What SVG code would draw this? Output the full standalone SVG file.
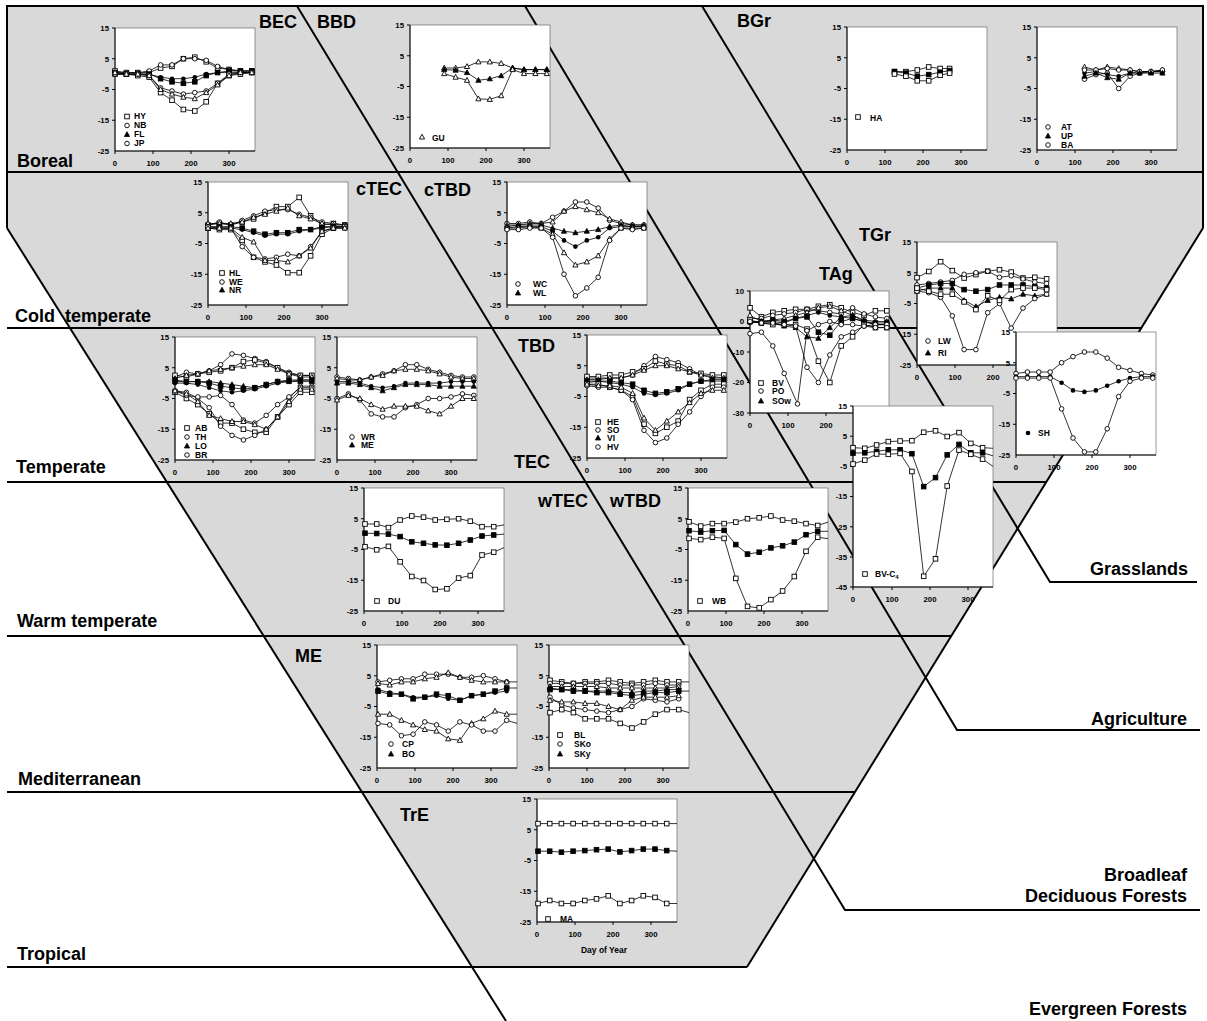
<svg xmlns="http://www.w3.org/2000/svg" width="1207" height="1021" viewBox="0 0 1207 1021">
<style>
.rl{font-family:"Liberation Sans",Arial,Helvetica,sans-serif;font-weight:bold;font-size:18px;fill:#000}
.rr{text-anchor:end}
.tk{font-family:"Liberation Sans",Arial,sans-serif;font-weight:bold;font-size:7.8px}
.ty{text-anchor:end}
.tx{text-anchor:middle}
.lg{font-family:"Liberation Sans",Arial,sans-serif;font-weight:bold;font-size:8.5px}
.bl{fill:none;stroke:#000;stroke-width:2}
.pb{fill:#fff;stroke:#555;stroke-width:0.6}
.ax{fill:none;stroke:#000;stroke-width:1}
.d{fill:none;stroke:#000;stroke-width:0.8}
.s{marker-start:url(#ms);marker-mid:url(#ms);marker-end:url(#ms)}
.S{marker-start:url(#mS);marker-mid:url(#mS);marker-end:url(#mS)}
.c{marker-start:url(#mc);marker-mid:url(#mc);marker-end:url(#mc)}
.C{marker-start:url(#mC);marker-mid:url(#mC);marker-end:url(#mC)}
.t{marker-start:url(#mt);marker-mid:url(#mt);marker-end:url(#mt)}
.T{marker-start:url(#mT);marker-mid:url(#mT);marker-end:url(#mT)}
</style>
<defs>
<g id="gs"><rect x="-2.3" y="-2.3" width="4.6" height="4.6" fill="#fff" stroke="#000" stroke-width="0.9"/></g>
<g id="gS"><rect x="-2.3" y="-2.3" width="4.6" height="4.6" fill="#000" stroke="#000" stroke-width="0.9"/></g>
<g id="gc"><circle r="2.3" fill="#fff" stroke="#000" stroke-width="0.9"/></g>
<g id="gC"><circle r="2.3" fill="#000"/></g>
<g id="gt"><path d="M0,-2.8L2.6,2L-2.6,2Z" fill="#fff" stroke="#000" stroke-width="0.9"/></g>
<g id="gT"><path d="M0,-2.8L2.6,2L-2.6,2Z" fill="#000" stroke="#000" stroke-width="0.8"/></g>
<marker id="ms" viewBox="-4 -4 8 8" markerWidth="8" markerHeight="8" markerUnits="userSpaceOnUse" overflow="visible"><use href="#gs"/></marker>
<marker id="mS" viewBox="-4 -4 8 8" markerWidth="8" markerHeight="8" markerUnits="userSpaceOnUse" overflow="visible"><use href="#gS"/></marker>
<marker id="mc" viewBox="-4 -4 8 8" markerWidth="8" markerHeight="8" markerUnits="userSpaceOnUse" overflow="visible"><use href="#gc"/></marker>
<marker id="mC" viewBox="-4 -4 8 8" markerWidth="8" markerHeight="8" markerUnits="userSpaceOnUse" overflow="visible"><use href="#gC"/></marker>
<marker id="mt" viewBox="-4 -4 8 8" markerWidth="8" markerHeight="8" markerUnits="userSpaceOnUse" overflow="visible"><use href="#gt"/></marker>
<marker id="mT" viewBox="-4 -4 8 8" markerWidth="8" markerHeight="8" markerUnits="userSpaceOnUse" overflow="visible"><use href="#gT"/></marker>
<g id="ax">
<rect class="pb" width="140" height="123"/>
<path class="ax" d="M0,0V123H140M-3,0H0M-3,30.75H0M-3,61.5H0M-3,92.25H0M0,123v3M38,123v3M76,123v3M114,123v3"/>
<text class="tk ty" x="-6" y="2.8">15</text>
<text class="tk ty" x="-6" y="33.5">5</text>
<text class="tk ty" x="-6" y="64.3">-5</text>
<text class="tk ty" x="-6" y="95">-15</text>
<text class="tk ty" x="-6" y="125.8">-25</text>
<text class="tk tx" x="0" y="138">0</text>
<text class="tk tx" x="38" y="138">100</text>
<text class="tk tx" x="76" y="138">200</text>
<text class="tk tx" x="114" y="138">300</text>
</g>
</defs>

<g id="background">
<polygon points="7,6 1203,6 1203,228 747,967 472,967 7,228" fill="#d9d9d9"/>
</g>

<g id="connectors">
<path class="bl" d="M7,228V6H1203V228"/>
<path class="bl" d="M7,228L506,1021"/>
<path class="bl" d="M1203,228L747,967"/>
<path class="bl" d="M7,172H1203M7,328H1141M7,482H1046M7,636H951M7,792H855M7,967H747"/>
<path class="bl" d="M297,6L845,910H1200"/>
<path class="bl" d="M525,6L957,730H1200"/>
<path class="bl" d="M702,6L1050,582H1197"/>
</g>

<g id="region-labels">
<text class="rl" x="259" y="28">BEC</text>
<text class="rl" x="317" y="28">BBD</text>
<text class="rl" x="737" y="27">BGr</text>
<text class="rl" x="17" y="167">Boreal</text>
<text class="rl" x="356" y="195">cTEC</text>
<text class="rl" x="424" y="196">cTBD</text>
<text class="rl" x="15" y="322" style="white-space:pre">Cold  temperate</text>
<text class="rl" x="859" y="241">TGr</text>
<text class="rl" x="819" y="280">TAg</text>
<text class="rl" x="518" y="352">TBD</text>
<text class="rl" x="514" y="468">TEC</text>
<text class="rl" x="16" y="473">Temperate</text>
<text class="rl" x="538" y="507">wTEC</text>
<text class="rl" x="610" y="507">wTBD</text>
<text class="rl" x="17" y="627">Warm temperate</text>
<text class="rl" x="295" y="662">ME</text>
<text class="rl" x="18" y="785">Mediterranean</text>
<text class="rl" x="400" y="821">TrE</text>
<text class="rl" x="17" y="960">Tropical</text>
<text class="rl rr" x="1188" y="575">Grasslands</text>
<text class="rl rr" x="1187" y="725">Agriculture</text>
<text class="rl rr" x="1187" y="881">Broadleaf</text>
<text class="rl rr" x="1187" y="902">Deciduous Forests</text>
<text class="rl rr" x="1187" y="1015">Evergreen Forests</text>
</g>

<g id="plot-BEC" transform="translate(115,28)">
<use href="#ax"/>
<polyline class="d s" points="0,43 11.4,44.6 22.8,44.6 34.2,44.6 45.6,40 57,38.4 68.4,30.7 79.8,29.2 91.2,33.8 102.6,40 114,41.5 125.4,43 136.8,43"/>
<polyline class="d c" points="0,44.6 11.4,44.6 22.8,44.6 34.2,43 45.6,36.9 57,36.9 68.4,30.7 79.8,30.7 91.2,32.3 102.6,38.4 114,41.5 125.4,43 136.8,43"/>
<polyline class="d S" points="0,44.6 11.4,46.1 22.8,46.1 34.2,46.1 45.6,50.7 57,53.8 68.4,55.3 79.8,53.8 91.2,47.6 102.6,44.6 114,43 125.4,43 136.8,43"/>
<polyline class="d C" points="0,46.1 11.4,46.1 22.8,46.1 34.2,46.1 45.6,49.2 57,50.7 68.4,50.7 79.8,49.2 91.2,46.1 102.6,44.6 114,44.6 125.4,44.6 136.8,44.6"/>
<polyline class="d s" points="0,46.1 11.4,46.1 22.8,47.6 34.2,49.2 45.6,64.6 57,72.2 68.4,81.5 79.8,83 91.2,73.8 102.6,55.3 114,47.6 125.4,46.1 136.8,44.6"/>
<polyline class="d c" points="0,46.1 11.4,46.1 22.8,46.1 34.2,47.6 45.6,59.9 57,63 68.4,66.1 79.8,64.6 91.2,63 102.6,55.3 114,46.1 125.4,44.6 136.8,44.6"/>
<polyline class="d t" points="0,44.6 11.4,46.1 22.8,46.1 34.2,47.6 45.6,61.5 57,66.1 68.4,69.2 79.8,70.7 91.2,64.6 102.6,56.9 114,47.6 125.4,44.6 136.8,44.6"/>
<use href="#gs" x="12" y="88.5"/><text class="lg" x="19" y="91">HY</text>
<use href="#gc" x="12" y="97.5"/><text class="lg" x="19" y="100">NB</text>
<use href="#gT" x="12" y="106.5"/><text class="lg" x="19" y="109">FL</text>
<use href="#gc" x="12" y="115.5"/><text class="lg" x="19" y="118">JP</text>
</g>

<g id="plot-GU" transform="translate(410,25)">
<use href="#ax"/>
<polyline class="d t" points="34.2,43 45.6,43 57,41.5 68.4,36.9 79.8,36.9 91.2,38.4 102.6,43 114,44.6 125.4,44.6 136.8,44.6"/>
<polyline class="d T" points="34.2,44.6 45.6,45.2 57,47.6 68.4,55.3 79.8,53.8 91.2,50.7 102.6,43 114,44.6 125.4,44.6 136.8,44.6"/>
<polyline class="d t" points="34.2,48.6 45.6,52.2 57,55.3 68.4,73.8 79.8,74.4 91.2,70.7 102.6,44.6 114,48.6 125.4,48.6 136.8,48.6"/>
<use href="#gt" x="12" y="112"/><text class="lg" x="22" y="116">GU</text>
</g>

<g id="plot-HA" transform="translate(847,27)">
<use href="#ax"/>
<polyline class="d s" points="47.5,44.6 58.9,44.6 70.3,43 81.7,40 93.1,41.5 102.6,41.5"/>
<polyline class="d S" points="47.5,44.6 58.9,46.1 70.3,49.2 81.7,47.6 93.1,45.2 102.6,43.6"/>
<polyline class="d s" points="47.5,47 58.9,49.2 70.3,53.8 81.7,53.8 93.1,48.3 102.6,46.1"/>
<use href="#gs" x="11" y="90"/><text class="lg" x="23" y="94">HA</text>
</g>

<g id="plot-ATUPBA" transform="translate(1037,27)">
<use href="#ax"/>
<polyline class="d c" points="47.5,52.2 58.9,47.6 70.3,46.1 81.7,61.5 93.1,49.2 102.6,46.1 114,44.6 125.4,44.6"/>
<polyline class="d t" points="47.5,40 58.9,43 70.3,40 81.7,41.5 93.1,43 102.6,44.6 114,44.6 125.4,43"/>
<polyline class="d C" points="47.5,46.1 58.9,44.6 70.3,47.6 81.7,49.2 93.1,46.1 102.6,44.6 114,44.6 125.4,44.6"/>
<polyline class="d c" points="47.5,43 58.9,43 70.3,41.5 81.7,43 93.1,43 102.6,44.6 114,44.6 125.4,43"/>
<polyline class="d T" points="47.5,49.2 58.9,46.1 70.3,50.7 81.7,52.2 93.1,46.1 102.6,46.1 114,46.1 125.4,46.1"/>
<use href="#gc" x="11" y="100"/><text class="lg" x="24" y="103">AT</text>
<use href="#gT" x="11" y="109"/><text class="lg" x="24" y="112">UP</text>
<use href="#gc" x="11" y="118"/><text class="lg" x="24" y="121">BA</text>
</g>

<g id="plot-cTEC" transform="translate(208,182)">
<use href="#ax"/>
<polyline class="d s" points="0,43 11.4,41.5 22.8,43 34.2,40 45.6,36.9 57,30.7 68.4,24.6 79.8,24.6 91.2,15.4 102.6,33.8 114,43 125.4,41.5 136.8,43"/>
<polyline class="d c" points="0,43 11.4,40 22.8,43 34.2,38.4 45.6,33.8 57,29.2 68.4,27.7 79.8,27.7 91.2,32.3 102.6,35.3 114,40 125.4,41.5 136.8,43"/>
<polyline class="d t" points="0,41.5 11.4,41.5 22.8,41.5 34.2,40 45.6,35.3 57,32.3 68.4,29.2 79.8,26.1 91.2,33.8 102.6,36.9 114,41.5 125.4,43 136.8,43"/>
<polyline class="d S" points="0,44.6 11.4,44.6 22.8,44.6 34.2,46.1 45.6,49.2 57,52.2 68.4,50.7 79.8,50.7 91.2,47.6 102.6,47.6 114,46.1 125.4,44.6 136.8,44.6"/>
<polyline class="d C" points="0,46.1 11.4,46.1 22.8,46.1 34.2,47.6 45.6,50.7 57,53.8 68.4,52.2 79.8,52.2 91.2,49.2 102.6,47.6 114,44.6 125.4,44.6 136.8,44.6"/>
<polyline class="d s" points="0,46.1 11.4,47.6 22.8,47.6 34.2,58.4 45.6,75.3 57,79.9 68.4,83 79.8,90.7 91.2,90.7 102.6,73.8 114,52.2 125.4,46.1 136.8,44.6"/>
<polyline class="d c" points="0,44.6 11.4,46.1 22.8,46.1 34.2,64.6 45.6,75.3 57,76.9 68.4,75.3 79.8,72.2 91.2,73.8 102.6,64.6 114,49.2 125.4,46.1 136.8,46.1"/>
<polyline class="d t" points="0,46.1 11.4,46.1 22.8,46.1 34.2,55.3 45.6,59.9 57,78.4 68.4,78.4 79.8,79.9 91.2,73.8 102.6,66.1 114,49.2 125.4,46.1 136.8,46.1"/>
<use href="#gs" x="14" y="91"/><text class="lg" x="21" y="94">HL</text>
<use href="#gc" x="14" y="100"/><text class="lg" x="21" y="103">WE</text>
<use href="#gT" x="14" y="108"/><text class="lg" x="21" y="111">NR</text>
</g>

<g id="plot-cTBD" transform="translate(507,182)">
<use href="#ax"/>
<polyline class="d c" points="0,41.5 11.4,41.5 22.8,40 34.2,41.5 45.6,35.3 57,29.2 68.4,20 79.8,20 91.2,26.1 102.6,38.4 114,41.5 125.4,43 136.8,43"/>
<polyline class="d t" points="0,43 11.4,43 22.8,41.5 34.2,41.5 45.6,40 57,29.2 68.4,24.6 79.8,27.7 91.2,30.7 102.6,36.9 114,40 125.4,43 136.8,43"/>
<polyline class="d T" points="0,44.6 11.4,43 22.8,43 34.2,43 45.6,46.1 57,49.2 68.4,50.7 79.8,49.2 91.2,47.6 102.6,44.6 114,43 125.4,44.6 136.8,44.6"/>
<polyline class="d C" points="0,46.1 11.4,44.6 22.8,44.6 34.2,44.6 45.6,49.2 57,58.4 68.4,64.6 79.8,58.4 91.2,55.3 102.6,46.1 114,44.6 125.4,44.6 136.8,44.6"/>
<polyline class="d t" points="0,46.1 11.4,46.1 22.8,44.6 34.2,46.1 45.6,52.2 57,70.7 68.4,83 79.8,79.9 91.2,73.8 102.6,56.9 114,46.1 125.4,46.1 136.8,46.1"/>
<polyline class="d c" points="0,47.6 11.4,47.6 22.8,46.1 34.2,46.1 45.6,55.3 57,92.2 68.4,113.8 79.8,106 91.2,95.3 102.6,58.4 114,46.1 125.4,47.6 136.8,46.1"/>
<use href="#gc" x="11" y="102"/><text class="lg" x="26" y="105">WC</text>
<use href="#gT" x="11" y="111"/><text class="lg" x="26" y="114">WL</text>
</g>

<g id="plot-TEC1" transform="translate(175,337)">
<use href="#ax"/>
<polyline class="d c" points="0,40 11.4,35.3 22.8,36.9 34.2,33.8 45.6,27.7 57,16.9 68.4,18.4 79.8,21.5 91.2,24.6 102.6,30.7 114,35.3 125.4,38.4 136.8,38.4"/>
<polyline class="d s" points="0,38.4 11.4,40 22.8,36.9 34.2,35.3 45.6,33.8 57,30.7 68.4,24.6 79.8,23 91.2,26.1 102.6,30.7 114,36.9 125.4,38.4 136.8,38.4"/>
<polyline class="d t" points="0,41.5 11.4,38.4 22.8,36.9 34.2,33.8 45.6,32.3 57,30.7 68.4,29.2 79.8,27.7 91.2,27.7 102.6,32.3 114,36.9 125.4,40 136.8,40"/>
<polyline class="d S" points="0,43 11.4,44.6 22.8,44.6 34.2,46.1 45.6,49.2 57,50.7 68.4,52.2 79.8,50.7 91.2,47.6 102.6,44.6 114,43 125.4,43 136.8,43"/>
<polyline class="d C" points="0,46.1 11.4,46.1 22.8,47.6 34.2,50.7 45.6,53.8 57,55.3 68.4,53.8 79.8,52.2 91.2,49.2 102.6,46.1 114,44.6 125.4,43 136.8,43"/>
<polyline class="d T" points="0,44.6 11.4,44.6 22.8,44.6 34.2,44.6 45.6,46.1 57,47.6 68.4,49.2 79.8,50.7 91.2,47.6 102.6,44.6 114,44.6 125.4,44.6 136.8,44.6"/>
<polyline class="d s" points="0,55.3 11.4,61.5 22.8,67.6 34.2,76.9 45.6,86.1 57,86.1 68.4,92.2 79.8,95.3 91.2,95.3 102.6,79.9 114,67.6 125.4,55.3 136.8,55.3"/>
<polyline class="d c" points="0,53.8 11.4,55.3 22.8,61.5 34.2,70.7 45.6,89.2 57,98.4 68.4,103 79.8,98.4 91.2,92.2 102.6,79.9 114,61.5 125.4,49.2 136.8,49.2"/>
<polyline class="d c" points="0,53.8 11.4,58.4 22.8,59.9 34.2,59.9 45.6,58.4 57,67.6 68.4,83 79.8,86.1 91.2,78.4 102.6,67.6 114,59.9 125.4,50.7 136.8,50.7"/>
<polyline class="d t" points="0,53.8 11.4,56.9 22.8,64.6 34.2,78.4 45.6,81.5 57,84.5 68.4,84.5 79.8,87.6 91.2,92.2 102.6,79.9 114,64.6 125.4,52.2 136.8,52.2"/>
<use href="#gs" x="12" y="91"/><text class="lg" x="20" y="94">AB</text>
<use href="#gc" x="12" y="100"/><text class="lg" x="20" y="103">TH</text>
<use href="#gT" x="12" y="109"/><text class="lg" x="20" y="112">LO</text>
<use href="#gc" x="12" y="118"/><text class="lg" x="20" y="121">BR</text>
</g>

<g id="plot-TEC2" transform="translate(337,337)">
<use href="#ax"/>
<polyline class="d c" points="0,40 11.4,41.5 22.8,43 34.2,40 45.6,36.9 57,33.8 68.4,27.7 79.8,27.7 91.2,32.3 102.6,35.3 114,38.4 125.4,40 136.8,40"/>
<polyline class="d t" points="0,41.5 11.4,43 22.8,43 34.2,40 45.6,38.4 57,33.8 68.4,32.3 79.8,32.3 91.2,33.8 102.6,36.9 114,40 125.4,41.5 136.8,41.5"/>
<polyline class="d C" points="0,44.6 11.4,44.6 22.8,46.1 34.2,49.2 45.6,50.7 57,49.2 68.4,46.1 79.8,46.1 91.2,46.1 102.6,46.1 114,44.6 125.4,44.6 136.8,44.6"/>
<polyline class="d T" points="0,46.1 11.4,46.1 22.8,47.6 34.2,50.7 45.6,53.8 57,50.7 68.4,47.6 79.8,47.6 91.2,47.6 102.6,49.2 114,49.2 125.4,49.2 136.8,49.2"/>
<polyline class="d c" points="0,61.5 11.4,56.9 22.8,63 34.2,76.9 45.6,79.9 57,79.9 68.4,70.7 79.8,67.6 91.2,61.5 102.6,61.5 114,59.9 125.4,56.9 136.8,58.4"/>
<polyline class="d t" points="0,63 11.4,58.4 22.8,61.5 34.2,67.6 45.6,72.2 57,69.2 68.4,69.2 79.8,69.2 91.2,73.8 102.6,76.9 114,69.2 125.4,61.5 136.8,61.5"/>
<use href="#gc" x="15" y="100"/><text class="lg" x="24" y="103">WR</text>
<use href="#gT" x="15" y="108"/><text class="lg" x="24" y="111">ME</text>
</g>

<g id="plot-TBD" transform="translate(587,335)">
<use href="#ax"/>
<polyline class="d c" points="0,43 11.4,43 22.8,43 34.2,43 45.6,40 57,30.7 68.4,21.5 79.8,24.6 91.2,27.7 102.6,33.8 114,40 125.4,41.5 136.8,43"/>
<polyline class="d s" points="0,41.5 11.4,41.5 22.8,40 34.2,40 45.6,36.9 57,33.8 68.4,26.1 79.8,29.2 91.2,30.7 102.6,36.9 114,38.4 125.4,40 136.8,40"/>
<polyline class="d t" points="0,44.6 11.4,44.6 22.8,43 34.2,43 45.6,40 57,35.3 68.4,30.7 79.8,30.7 91.2,33.8 102.6,36.9 114,40 125.4,43 136.8,43"/>
<polyline class="d S" points="0,46.1 11.4,46.1 22.8,46.1 34.2,47.6 45.6,49.2 57,55.3 68.4,58.4 79.8,56.9 91.2,53.8 102.6,49.2 114,46.1 125.4,44.6 136.8,44.6"/>
<polyline class="d C" points="0,47.6 11.4,46.1 22.8,47.6 34.2,49.2 45.6,52.2 57,58.4 68.4,59.9 79.8,58.4 91.2,55.3 102.6,49.2 114,46.1 125.4,46.1 136.8,46.1"/>
<polyline class="d s" points="0,49.2 11.4,49.2 22.8,52.2 34.2,55.3 45.6,61.5 57,89.2 68.4,98.4 79.8,92.2 91.2,86.1 102.6,64.6 114,55.3 125.4,49.2 136.8,49.2"/>
<polyline class="d c" points="0,50.7 11.4,52.2 22.8,52.2 34.2,55.3 45.6,64.6 57,95.3 68.4,107.6 79.8,103 91.2,89.2 102.6,76.9 114,61.5 125.4,52.2 136.8,52.2"/>
<polyline class="d t" points="0,49.2 11.4,50.7 22.8,50.7 34.2,52.2 45.6,58.4 57,83 68.4,95.3 79.8,86.1 91.2,76.9 102.6,67.6 114,58.4 125.4,55.3 136.8,55.3"/>
<use href="#gs" x="11" y="87"/><text class="lg" x="20" y="90">HE</text>
<use href="#gc" x="11" y="95"/><text class="lg" x="20" y="98">SO</text>
<use href="#gT" x="11" y="103"/><text class="lg" x="20" y="106">VI</text>
<use href="#gc" x="11" y="112"/><text class="lg" x="20" y="115">HV</text>
</g>

<g id="plot-TAg" transform="translate(750,291)">
<rect class="pb" width="139" height="122"/>
<path class="ax" d="M0,0V122H139M-3,0H0M-3,30.5H0M-3,61H0M-3,91.5H0M-3,122H0M0,122v3M38,122v3M76,122v3M114,122v3"/>
<text class="tk ty" x="-6" y="2.8">10</text>
<text class="tk ty" x="-6" y="33.3">0</text>
<text class="tk ty" x="-6" y="63.8">-10</text>
<text class="tk ty" x="-6" y="94.3">-20</text>
<text class="tk ty" x="-6" y="124.8">-30</text>
<text class="tk tx" x="0" y="137">0</text>
<text class="tk tx" x="38" y="137">100</text>
<text class="tk tx" x="76" y="137">200</text>
<text class="tk tx" x="114" y="137">300</text>
<polyline class="d s" points="0,16.8 11.4,25.9 22.8,21.4 34.2,19.8 45.6,18.3 57,18.3 68.4,15.3 79.8,13.7 91.2,16.8 102.6,21.4 114,24.4 125.4,19.8 136.8,19.8"/>
<polyline class="d c" points="0,27.5 11.4,27.5 22.8,24.4 34.2,22.9 45.6,21.4 57,18.3 68.4,19.8 79.8,21.4 91.2,22.9 102.6,16.8 114,22.9 125.4,25.9 136.8,27.5"/>
<polyline class="d t" points="0,24.4 11.4,30.5 22.8,29 34.2,27.5 45.6,24.4 57,21.4 68.4,16.8 79.8,15.3 91.2,19.8 102.6,24.4 114,29 125.4,30.5 136.8,30.5"/>
<polyline class="d S" points="0,30.5 11.4,30.5 22.8,29 34.2,30.5 45.6,27.5 57,25.9 68.4,41.2 79.8,44.2 91.2,30.5 102.6,27.5 114,30.5 125.4,32 136.8,32"/>
<polyline class="d C" points="0,32 11.4,30.5 22.8,30.5 34.2,32 45.6,27.5 57,24.4 68.4,21.4 79.8,24.4 91.2,25.9 102.6,27.5 114,30.5 125.4,33.6 136.8,33.6"/>
<polyline class="d T" points="0,30.5 11.4,32 22.8,32 34.2,35.1 45.6,36.6 57,45.8 68.4,47.3 79.8,36.6 91.2,25.9 102.6,24.4 114,30.5 125.4,33.6 136.8,33.6"/>
<polyline class="d s" points="0,29 11.4,32 22.8,33.6 34.2,33.6 45.6,33.6 57,38.1 68.4,70.2 79.8,91.5 91.2,54.9 102.6,45.8 114,33.6 125.4,36.6 136.8,36.6"/>
<polyline class="d c" points="0,30.5 11.4,32 22.8,32 34.2,33.6 45.6,35.1 57,76.3 68.4,91.5 79.8,64 91.2,45.8 102.6,41.2 114,35.1 125.4,33.6 136.8,33.6"/>
<polyline class="d c" points="0,42.7 11.4,41.2 22.8,54.9 34.2,82.4 47.5,112.9 57,39.7 68.4,33.6 79.8,30.5 91.2,33.6 102.6,33.6 114,35.1 125.4,36.6 136.8,36.6"/>
<use href="#gs" x="11" y="92"/><text class="lg" x="22" y="95">BV</text>
<use href="#gc" x="11" y="100"/><text class="lg" x="22" y="103">PO</text>
<use href="#gT" x="11" y="110"/><text class="lg" x="22" y="113">SOw</text>
</g>

<g id="plot-TGr" transform="translate(917,242)">
<use href="#ax"/>
<polyline class="d s" points="0,35.6 11.8,29.5 23.6,19.7 35.3,28.6 47.1,36 58.9,32.6 70.7,29.2 82.5,27.7 94.2,30.1 106,36 117.8,35.3 129.6,36.9"/>
<polyline class="d c" points="0,43 11.8,41.5 23.6,40 35.3,38.4 47.1,32.3 58.9,30.7 70.7,29.2 82.5,35.3 94.2,33.8 106,36.9 117.8,40 129.6,41.5"/>
<polyline class="d S" points="0,46.1 11.8,43 23.6,41.5 35.3,41.5 47.1,47.6 58.9,49.2 70.7,47.6 82.5,43 94.2,43 106,43 117.8,44.6 129.6,46.1"/>
<polyline class="d T" points="0,49.2 11.8,46.1 23.6,46.1 35.3,46.1 47.1,58.4 58.9,64.6 70.7,58.4 82.5,55.3 94.2,56.9 106,52.2 117.8,53.8 129.6,52.2"/>
<polyline class="d c" points="0,49.2 11.8,50.7 23.6,55.3 35.3,73.8 47.1,107.6 58.9,107.6 70.7,70.7 82.5,61.5 94.2,86.1 106,66.1 117.8,56.6 129.6,52.2"/>
<polyline class="d s" points="0,46.1 11.8,49.2 23.6,52.2 35.3,52.2 47.1,59.9 58.9,67.6 70.7,53.8 82.5,58.4 94.2,47.6 106,46.1 117.8,46.1 129.6,47.6"/>
<use href="#gc" x="11" y="99"/><text class="lg" x="21" y="102">LW</text>
<use href="#gT" x="11" y="111"/><text class="lg" x="21" y="114">RI</text>
</g>

<g id="plot-SH" transform="translate(1016,332)">
<use href="#ax"/>
<polyline class="d c" points="0,41.5 11.4,40 22.8,40 34.2,40 45.6,30.7 57,24.6 68.4,20 79.8,20 91.2,26.1 102.6,35.3 114,38.4 125.4,41.5 136.8,43"/>
<polyline class="d C" points="0,44.6 11.4,44.6 22.8,44.6 34.2,44.6 45.6,50.7 57,58.4 68.4,59.9 79.8,58.4 91.2,53.8 102.6,49.2 114,46.1 125.4,44.6 136.8,44.6"/>
<polyline class="d c" points="0,46.1 11.4,46.1 22.8,46.1 34.2,46.1 45.6,76.9 57,106 68.4,119.9 79.8,119.9 91.2,96.8 102.6,64.6 114,49.2 125.4,46.1 136.8,46.1"/>
<use href="#gC" x="12" y="101"/><text class="lg" x="22" y="104">SH</text>
</g>

<g id="plot-BVC4" transform="translate(853,406)">
<rect class="pb" width="140" height="181"/>
<path class="ax" d="M0,0V181H140M-3,0H0M-3,30.2H0M-3,60.4H0M-3,90.6H0M-3,120.8H0M-3,151H0M-3,181H0M0,181v3M39,181v3M77,181v3M115,181v3"/>
<text class="tk ty" x="-6" y="2.8">15</text>
<text class="tk ty" x="-6" y="33">5</text>
<text class="tk ty" x="-6" y="63.2">-5</text>
<text class="tk ty" x="-6" y="93.4">-15</text>
<text class="tk ty" x="-6" y="123.6">-25</text>
<text class="tk ty" x="-6" y="153.8">-35</text>
<text class="tk ty" x="-6" y="183.8">-45</text>
<text class="tk tx" x="0" y="196">0</text>
<text class="tk tx" x="39" y="196">100</text>
<text class="tk tx" x="77" y="196">200</text>
<text class="tk tx" x="115" y="196">300</text>
<path class="d" d="M129.6,41.7L140,42.3M129.6,46.8L140,49.8M129.6,53.1L140,60.4"/>
<polyline class="d s" points="0,41.7 11.8,42.3 23.6,39 35.3,35.6 47.1,35 58.9,34.7 70.7,26.3 82.5,24.8 94.2,30.5 106,26.6 117.8,37.4 129.6,41.7"/>
<polyline class="d S" points="0,47.1 11.8,46.8 23.6,45.3 35.3,43.8 47.1,43.8 58.9,47.7 70.7,80.6 82.5,71.6 94.2,48.9 106,38.4 117.8,46.8 129.6,46.8"/>
<polyline class="d s" points="0,58 11.8,54.1 23.6,48 35.3,48.3 47.1,47.4 58.9,65.5 70.7,170.3 82.5,152.8 94.2,80 106,44.1 117.8,48.3 129.6,53.1"/>
<use href="#gs" x="12" y="168"/><text class="lg" x="22" y="171">BV-C<tspan font-size="6" dy="2">4</tspan></text>
</g>

<g id="plot-DU" transform="translate(364,488)">
<use href="#ax"/>
<path class="d" d="M129.7,38.7L140,36.9M129.7,47L140,46.1M129.7,64.2L140,59.6"/>
<polyline class="d s" points="1,36 12.7,36 24.4,39.6 36.1,32 47.8,28 59.5,29.2 71.2,32 82.9,31.3 94.6,30.7 106.3,33.2 118,38.7 129.7,38.7"/>
<polyline class="d S" points="1,45.2 12.7,45.5 24.4,46.1 36.1,48.6 47.8,53.8 59.5,55.3 71.2,56.9 82.9,57.2 94.6,55.3 106.3,52 118,48 129.7,47"/>
<polyline class="d s" points="1,58.7 12.7,61.8 24.4,58.4 36.1,73.8 47.8,88.5 59.5,92.5 71.2,101.5 82.9,100.8 94.6,90.1 106.3,87.6 118,67 129.7,64.2"/>
<use href="#gs" x="13" y="113"/><text class="lg" x="24" y="116">DU</text>
</g>

<g id="plot-WB" transform="translate(688,488)">
<use href="#ax"/>
<path class="d" d="M129.7,37.5L140,34.1M129.7,43.3L140,43.3M129.7,49.2L140,50.7"/>
<polyline class="d s" points="1,33.8 12.7,38.1 24.4,35.6 36.1,35.6 47.8,34.1 59.5,30.7 71.2,29.8 82.9,28 94.6,32 106.3,33.2 118,35.6 129.7,37.5"/>
<polyline class="d S" points="1,42.7 12.7,44 24.4,42.7 36.1,42.4 47.8,56.6 59.5,66.1 71.2,64.2 82.9,59.9 94.6,57.8 106.3,54.1 118,46.7 129.7,43.3"/>
<polyline class="d s" points="1,50.4 12.7,51.6 24.4,49.2 36.1,50.4 47.8,90.4 59.5,118.4 71.2,119.9 82.9,111.6 94.6,103 106.3,88.5 118,63.3 129.7,49.2"/>
<use href="#gs" x="12" y="113"/><text class="lg" x="24" y="116">WB</text>
</g>

<g id="plot-ME1" transform="translate(377,645)">
<use href="#ax"/>
<path class="d" d="M129.7,36.9L140,36.9M129.7,43L140,43M129.7,69.2L140,69.2M129.7,75.3L140,78.4"/>
<polyline class="d c" points="1,36.9 12.7,35.3 24.4,33.8 36.1,33.8 47.8,29.2 59.5,29.2 71.2,29.2 82.9,32.3 94.6,32.3 106.3,30.7 118,33.8 129.7,36.9"/>
<polyline class="d t" points="1,38.4 12.7,40 24.4,36.9 36.1,36.9 47.8,33.8 59.5,32.3 71.2,27.7 82.9,32.3 94.6,35.3 106.3,36.9 118,36.9 129.7,36.9"/>
<polyline class="d S" points="1,46.1 12.7,49.2 24.4,49.2 36.1,53.8 47.8,52.2 59.5,49.2 71.2,50.7 82.9,55.3 94.6,50.7 106.3,49.2 118,46.1 129.7,43"/>
<polyline class="d C" points="1,44.6 12.7,47.6 24.4,49.2 36.1,52.2 47.8,52.2 59.5,50.7 71.2,53.8 82.9,55.3 94.6,50.7 106.3,49.2 118,47.6 129.7,46.1"/>
<polyline class="d t" points="1,69.2 12.7,69.2 24.4,75.3 36.1,79.9 47.8,84.5 59.5,86.1 71.2,93.8 82.9,95.3 94.6,78.4 106.3,73.8 118,66.1 129.7,69.2"/>
<polyline class="d c" points="1,78.4 12.7,79.9 24.4,90.7 36.1,89.2 47.8,76.9 59.5,79.9 71.2,86.1 82.9,76.9 94.6,79.9 106.3,86.1 118,86.1 129.7,75.3"/>
<use href="#gc" x="14" y="99"/><text class="lg" x="25" y="102">CP</text>
<use href="#gT" x="14" y="109"/><text class="lg" x="25" y="112">BO</text>
</g>

<g id="plot-ME2" transform="translate(549,645)">
<use href="#ax"/>
<path class="d" d="M129.7,36.9L140,36.9M129.7,64.6L140,67.6M129.7,46.1L140,46.1"/>
<polyline class="d s" points="1,35.3 12.7,36.9 24.4,38.4 36.1,36.9 47.8,36.9 59.5,35.3 71.2,36.9 82.9,38.4 94.6,36.9 106.3,35.3 118,36.9 129.7,36.9"/>
<polyline class="d c" points="1,38.4 12.7,38.4 24.4,38.4 36.1,38.4 47.8,38.4 59.5,38.4 71.2,40 82.9,40 94.6,40 106.3,38.4 118,40 129.7,40"/>
<polyline class="d t" points="1,41.5 12.7,41.5 24.4,41.5 36.1,41.5 47.8,41.5 59.5,43 71.2,43 82.9,43 94.6,43 106.3,43 118,43 129.7,41.5"/>
<polyline class="d S" points="1,44.6 12.7,44.6 24.4,46.1 36.1,46.1 47.8,47.6 59.5,47.6 71.2,49.2 82.9,50.7 94.6,49.2 106.3,47.6 118,47.6 129.7,46.1"/>
<polyline class="d T" points="1,43 12.7,44.6 24.4,44.6 36.1,46.1 47.8,46.1 59.5,46.1 71.2,47.6 82.9,47.6 94.6,46.1 106.3,46.1 118,44.6 129.7,44.6"/>
<polyline class="d c" points="1,52.2 12.7,59.9 24.4,63 36.1,64.6 47.8,66.1 59.5,67.6 71.2,64.6 82.9,61.5 94.6,53.8 106.3,55.3 118,56.9 129.7,53.8"/>
<polyline class="d t" points="1,55.3 12.7,56.9 24.4,56.9 36.1,58.4 47.8,58.4 59.5,61.5 71.2,64.6 82.9,55.3 94.6,52.2 106.3,52.2 118,52.2 129.7,50.7"/>
<polyline class="d s" points="1,67.6 12.7,64.6 24.4,67.6 36.1,73.8 47.8,73.8 59.5,73.8 71.2,78.4 82.9,83 94.6,76.9 106.3,69.2 118,64.6 129.7,64.6"/>
<use href="#gs" x="11" y="90"/><text class="lg" x="25" y="93">BL</text>
<use href="#gc" x="11" y="99"/><text class="lg" x="25" y="102">SKo</text>
<use href="#gT" x="11" y="109"/><text class="lg" x="25" y="112">SKy</text>
</g>

<g id="plot-TrE" transform="translate(537,799)">
<use href="#ax"/>
<path class="d" d="M129.7,24.6L140,24.6M129.7,51.6L140,52.2M129.7,104.5L140,104.5"/>
<polyline class="d s" points="1,24.6 12.7,24.6 24.4,24.6 36.1,24.6 47.8,24.6 59.5,24.6 71.2,24.6 82.9,24.6 94.6,24.6 106.3,24.6 118,24.6 129.7,24.6"/>
<polyline class="d S" points="1,52.2 12.7,52.2 24.4,53.2 36.1,52.2 47.8,51.6 59.5,50.7 71.2,50.1 82.9,52.9 94.6,51.6 106.3,50.1 118,50.1 129.7,51.6"/>
<polyline class="d s" points="1,104.5 12.7,101.5 24.4,104.5 36.1,104.5 47.8,101.5 59.5,99.9 71.2,96.8 82.9,104.5 94.6,101.5 106.3,96.8 118,98.4 129.7,104.5"/>
<use href="#gs" x="11" y="120"/><text class="lg" x="23" y="123">MA</text>
<text class="lg tx" x="67" y="154">Day of Year</text>
</g>
</svg>
